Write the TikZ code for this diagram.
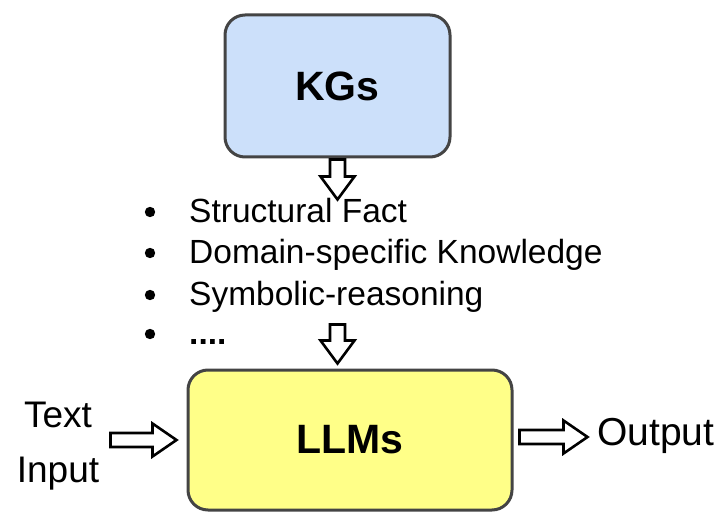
\documentclass[tikz,border=0pt]{standalone}
\usepackage{fontspec}
\setmainfont{Liberation Sans}
\definecolor{kgblue}{HTML}{CCE0FA}
\definecolor{llmyellow}{HTML}{FFFF88}
\definecolor{edgegray}{HTML}{444444}
\tikzset{
  bigbox/.style={draw=edgegray, line width=3pt, rounded corners=20pt, inner sep=0pt,
    font=\fontsize{41}{48}\selectfont\bfseries},
  lbl/.style={inner sep=0pt, font=\fontsize{37}{44}\selectfont},
  item/.style={inner sep=0pt, anchor=base west, font=\fontsize{33.5}{40}\selectfont},
  bulletdot/.style={fill=black},
  arrowline/.style={draw=black, fill=white, line width=2.6pt, line join=miter},
  pics/harrow/.style={code={
    \draw[arrowline] (0,-7) -- (#1-24,-7) -- (#1-24,-16.5) -- (#1,0) -- (#1-24,16.5) -- (#1-24,7) -- (0,7) -- cycle;}},
  pics/varrow/.style={code={
    \draw[arrowline] (-7.5,0) -- (-7.5,#1-23) -- (-17,#1-23) -- (0,#1) -- (17,#1-23) -- (7.5,#1-23) -- (7.5,0) -- cycle;}},
}
\begin{document}
\begin{tikzpicture}[x=1pt,y=-1pt]
\useasboundingbox (0,0) rectangle (722,513);
% boxes
\node[bigbox, fill=kgblue, minimum width=225pt, minimum height=142pt] (kg) at (337.5,86) {KGs};
\node[bigbox, fill=llmyellow, minimum width=324pt, minimum height=140pt] (llm) at (350,440) {LLMs};
% list
\node[item] (it1) at (189,222) {Structural Fact};
\node[item] (it2) at (189,263) {Domain-specific Knowledge};
\node[item] (it3) at (189,305) {Symbolic-reasoning};
\node[item] (it4) at (189,344) {\textbf{....}};
\fill[bulletdot] (150,212) circle (5.2);
\fill[bulletdot] (150,253) circle (5.2);
\fill[bulletdot] (150,295) circle (5.2);
\fill[bulletdot] (150,334) circle (5.2);
% labels
\node[lbl, anchor=base] (textlbl) at (58,427) {Text};
\node[lbl, anchor=base] (inputlbl) at (58,482) {Input};
\node[lbl, anchor=base west, font=\fontsize{39}{46}\selectfont] (outlbl) at (597,445) {Output};
% block arrows
\pic at ([yshift=-1pt]kg.south) {varrow=40};
\pic at ([yshift=44pt]kg.south |- llm.north) {varrow=39};
\pic at ([xshift=-76pt]llm.west) {harrow=66};
\pic at ([xshift=6pt,yshift=3pt]llm.east) {harrow=68};
\end{tikzpicture}
\end{document}
